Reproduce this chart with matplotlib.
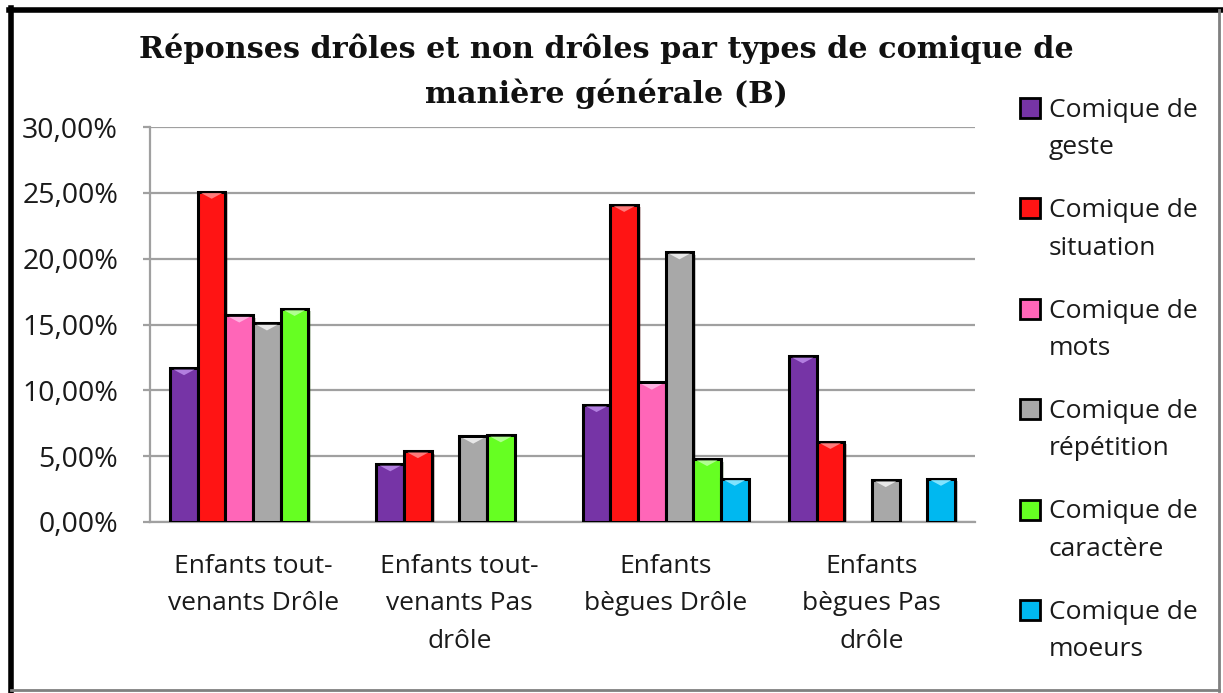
import matplotlib
matplotlib.use("Agg")
import matplotlib.pyplot as plt
import numpy as np
from matplotlib.patches import Polygon, Rectangle
from matplotlib.lines import Line2D
import matplotlib.patheffects as pe
from matplotlib.ticker import FuncFormatter, MultipleLocator

categories = ["Enfants tout-\nvenants Drôle", "Enfants tout-\nvenants Pas\ndrôle",
              "Enfants\nbègues Drôle", "Enfants\nbègues Pas\ndrôle"]
series_names = ["Comique de\ngeste", "Comique de\nsituation", "Comique de\nmots",
                "Comique de\nrépétition", "Comique de\ncaractère", "Comique de\nmoeurs"]
geste = [0.117, 0.044, 0.089, 0.126]
situation = [0.251, 0.054, 0.241, 0.061]
mots = [0.157, 0.0, 0.106, 0.0]
repetition = [0.151, 0.065, 0.205, 0.032]
caractere = [0.162, 0.066, 0.048, 0.0]
moeurs = [0.0, 0.0, 0.033, 0.033]
series_values = [geste, situation, mots, repetition, caractere, moeurs]
colors = ["#7634a6", "#ff1414", "#ff66b8", "#a8a8a8", "#66ff22", "#00b8f0"]
light = ["#b27ee0", "#ff7a7a", "#ffb0e0", "#e8e8e8", "#b0ff90", "#80e4ff"]

FONT = "Open Sans"
W, H = 1223, 693
fig = plt.figure(figsize=(W / 100, H / 100), dpi=100)
ax = fig.add_axes([150 / W, (H - 522) / H, (975 - 150) / W, (522 - 127) / H])

x = np.arange(len(categories))
w = 0.134
for i, (vals, c, lc) in enumerate(zip(series_values, colors, light)):
    bars = ax.bar(x + (i - 2.5) * w, vals, width=w, color=c, edgecolor="black",
                  linewidth=2.2, zorder=3)
    for b in bars:
        b.set_path_effects([pe.SimplePatchShadow(offset=(2, -2), alpha=0.25), pe.Normal()])
        h = b.get_height()
        if h <= 0:
            b.set_visible(False)
            continue
        x0 = b.get_x(); bw = b.get_width()
        tri = Polygon([[x0 + bw * 0.12, h - 0.0012], [x0 + bw * 0.88, h - 0.0012],
                       [x0 + bw / 2, h - 0.0055]], closed=True, facecolor=lc,
                      edgecolor="none", zorder=4)
        ax.add_patch(tri)

ax.set_xlim(-0.5, 3.5)
ax.set_ylim(0, 0.30)
ax.yaxis.set_major_locator(MultipleLocator(0.05))
ax.yaxis.set_major_formatter(FuncFormatter(lambda v, p: f"{v*100:.2f}%".replace(".", ",")))
ax.grid(axis="y", color="#a0a0a0", linewidth=1.6, zorder=0)
ax.set_axisbelow(True)
for s in ["top", "right"]:
    ax.spines[s].set_visible(False)
for s in ["left", "bottom"]:
    ax.spines[s].set_color("#a0a0a0")
    ax.spines[s].set_linewidth(1.6)
ax.tick_params(axis="y", length=5, width=1.6, color="#a0a0a0", pad=18,
               labelsize=20.5, labelcolor="#1a1a1a")
ax.tick_params(axis="x", length=0, pad=23, labelsize=19, labelcolor="#1a1a1a")
ax.set_xticks(x)
ax.set_xticklabels(categories, linespacing=1.65)
for t in ax.get_yticklabels() + ax.get_xticklabels():
    t.set_fontfamily(FONT)

fig.text(606 / W, 1 - 103 / H, "Réponses drôles et non drôles par types de comique de\nmanière générale (B)",
         ha="center", va="baseline", fontsize=21.8, family="DejaVu Serif", weight="bold",
         linespacing=1.6, color="#111111")

# legend (drawn manually to keep the square next to the first line)
for i, (name, c) in enumerate(zip(series_names, colors)):
    yc = 108 + 100.4 * i
    fig.add_artist(Rectangle((1020 / W, 1 - (yc + 10) / H), 20 / W, 20 / H,
                             transform=fig.transFigure, facecolor=c, edgecolor="black",
                             linewidth=2))
    fig.text(1049 / W, 1 - (yc + 21) / H, name, ha="left", va="center", family=FONT,
             fontsize=19, linespacing=1.65, color="#1a1a1a")

# figure frame
fig.add_artist(Line2D([11 / W, 11 / W], [0, 1 - 8 / H], transform=fig.transFigure, color="black", linewidth=4))
fig.add_artist(Line2D([9 / W, 1221 / W], [1 - 10 / H, 1 - 10 / H], transform=fig.transFigure, color="black", linewidth=4))
fig.add_artist(Line2D([1219 / W, 1219 / W], [1 - 10 / H, 0.003], transform=fig.transFigure, color="#808080", linewidth=2))
fig.add_artist(Line2D([11 / W, 1219 / W], [0.004, 0.004], transform=fig.transFigure, color="#808080", linewidth=2))

fig.savefig("out.png", dpi=100)
